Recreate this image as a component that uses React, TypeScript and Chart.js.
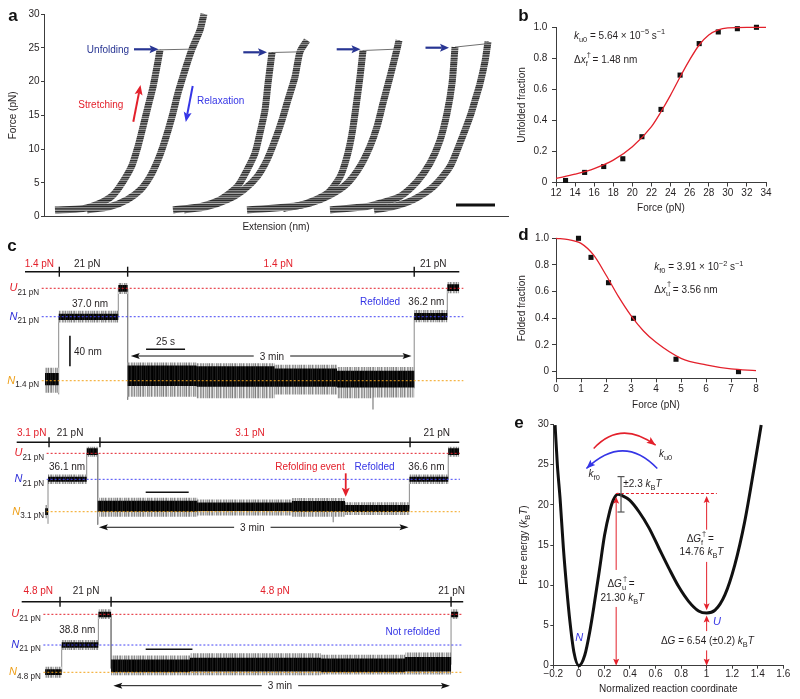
import React, { useEffect, useRef } from 'react';
import { Chart, registerables } from 'chart.js';

Chart.register(...registerables);

const FONT = '"Liberation Sans", Arial, Helvetica, sans-serif';
const RED = '#e3202b';
const BLUE = '#3535e6';
const NAVY = '#283593';
const ORANGE = '#f2a31b';
const INK = '#231f20';
const AX = '#3c3c3c';

// ================= Panel a : force-extension cycles =================
const c1StretchExt = [11, 39, 56, 69, 79, 88, 94, 99, 104, 109, 113, 116];
const c1StretchF = [1.0, 1.2, 2.0, 3.2, 5.2, 7.6, 10.4, 13.3, 16.3, 19.2, 22.2, 24.7];
const c1JumpExt = [116, 148];
const c1JumpF = [24.7, 24.8];
const c1RelaxExt = [160, 156, 148, 141, 134, 128, 121, 114, 106, 96, 83, 66, 43];
const c1RelaxF = [30, 27.6, 24.8, 21.7, 18.3, 14.8, 11.3, 8.4, 5.9, 3.9, 2.5, 1.5, 1.0];

const c2StretchExt = [129, 156, 176, 193, 203, 211, 216, 221, 224, 228];
const c2StretchF = [1.0, 1.5, 2.5, 4.4, 6.9, 9.4, 12.4, 15.8, 19.7, 24.3];
const c2JumpExt = [228, 256];
const c2JumpF = [24.3, 24.4];
const c2RelaxExt = [263, 256, 251, 244, 238, 231, 223, 213, 199, 183, 163, 140];
const c2RelaxF = [26.1, 24.4, 20.7, 17.3, 14.3, 11.3, 8.4, 5.9, 3.9, 2.5, 1.5, 1.0];

const c3StretchExt = [203, 256, 283, 296, 303, 308, 312, 316, 319];
const c3StretchF = [1.0, 1.7, 3.4, 5.9, 8.9, 12.3, 16.3, 20.7, 24.6];
const c3JumpExt = [319, 353];
const c3JumpF = [24.6, 24.8];
const c3RelaxExt = [355, 353, 346, 339, 333, 326, 316, 303, 286, 266, 239];
const c3RelaxF = [26.1, 24.8, 20.7, 16.8, 13.3, 10.4, 7.4, 4.9, 3.2, 2.0, 1.2];

const c4StretchExt = [286, 323, 336, 356, 373, 386, 396, 403, 408, 411];
const c4StretchF = [1.0, 1.5, 2.0, 3.0, 5.2, 7.9, 11.3, 15.3, 19.7, 25.1];
const c4JumpExt = [411, 443];
const c4JumpF = [25.1, 25.6];
const c4RelaxExt = [444, 441, 436, 431, 426, 416, 406, 389, 369, 349, 330];
const c4RelaxF = [25.9, 23.0, 19.7, 17.2, 14.8, 10.9, 7.4, 4.4, 2.5, 1.5, 1.0];

const aYTicks = [0, 5, 10, 15, 20, 25, 30];

// ================= Panel b =================
const bForce = [13, 15, 17, 19, 21, 23, 25, 27, 29, 31, 33];
const bUnfolded = [0.013, 0.065, 0.103, 0.153, 0.295, 0.471, 0.692, 0.895, 0.97, 0.991, 1.0];
const bFitForce = [12, 14, 16, 18, 20, 22, 23, 24, 25, 26, 27, 28, 29, 30, 32, 34];
const bFitUnfolded = [0.026, 0.054, 0.09, 0.144, 0.23, 0.36, 0.456, 0.563, 0.68, 0.79, 0.886, 0.95, 0.983, 0.996, 1.0, 1.0];
const bXTicks = [12, 14, 16, 18, 20, 22, 24, 26, 28, 30, 32, 34];
const fracTicks = [0, 0.2, 0.4, 0.6, 0.8, 1.0];

// ================= Panel d =================
const dForce = [0.9, 1.4, 2.1, 3.1, 4.8, 7.3];
const dFolded = [1.0, 0.857, 0.667, 0.4, 0.093, 0.0];
const dFitForce = [0, 0.5, 1, 1.5, 2, 2.5, 3, 3.5, 4, 5, 6, 7, 8];
const dFitFolded = [1.0, 0.99, 0.962, 0.875, 0.725, 0.562, 0.42, 0.305, 0.22, 0.1, 0.05, 0.02, 0.008];
const dXTicks = [0, 1, 2, 3, 4, 5, 6, 7, 8];

// ================= Panel e =================
const eCoord = [-0.186, -0.168, -0.147, -0.121, -0.095, -0.07, -0.039, 0, 0.046, 0.085, 0.124, 0.163, 0.201, 0.24, 0.27, 0.305, 0.343, 0.395, 0.472, 0.55, 0.627, 0.705, 0.782, 0.859, 0.937, 1.0, 1.066, 1.143, 1.22, 1.298, 1.375, 1.427];
const eEnergy = [29.9, 24.9, 20.8, 14.6, 9.6, 5.5, 1.7, 0, 1.3, 4.2, 8.0, 12.1, 16.2, 19.1, 20.6, 21.3, 21.1, 20.6, 19.1, 17.1, 14.6, 12.1, 9.8, 8.0, 6.8, 6.54, 6.9, 8.8, 12.5, 17.9, 24.9, 29.9];
const eXTicks = [-0.2, 0, 0.2, 0.4, 0.6, 0.8, 1.0, 1.2, 1.4, 1.6];
const eYTicks = [0, 5, 10, 15, 20, 25, 30];
const barrierCoord = 0.3;
const barrierEnergy = 21.3;
const unfoldedCoord = 1.0;
const unfoldedEnergy = 6.54;
const barrierErr = 2.3;

// ================= Panel c : extension traces (time s, extension nm) =================
const tr1T = [12.8, 21.6, 59.8, 65.8, 110, 160, 200, 222.5, 223.5, 249.5, 270.7, 278.4];
const tr1CoreHi = [10, 88, 126, 20, 19, 16, 13, 13, 13, 89, 127];
const tr1CoreLo = [-6, 80, 117, -7, -8, -8, -9, -9, -9, 80, 118];
const tr1OuterHi = [17, 92, 128.5, 24, 23, 21, 18, 18, 18, 93, 130];
const tr1OuterLo = [-16, 76.6, 114, -21, -23, -18, -23, -38, -22, 77, 115];
const tr1JumpT = [21.6, 59.8, 65.8, 249.5, 270.7];
const tr1JumpFrom = [-18, 84, 121, -10, 84];
const tr1JumpTo = [84, 121, -25, 84, 121];
const tr1Levels = [121.6, 84.2, 0];

const tr2T = [16.5, 18.2, 40.7, 47.1, 105, 160, 183.5, 184.5, 190.9, 228.3, 250.9, 257.3];
const tr2CoreHi = [4.5, 46, 83.4, 14.5, 12, 14, 14, 14, 8.8, 46, 83.4];
const tr2CoreLo = [-4.3, 39.5, 74.6, 0, 1, 0, 0, 0, -0.4, 39.5, 74.6];
const tr2OuterHi = [8.8, 49, 85.5, 18.4, 16, 18, 18, 18, 12.4, 49, 85.5];
const tr2OuterLo = [-8.7, 36.4, 72.4, -6.6, -5, -6.6, -14, -6.6, -4.3, 36.4, 72.4];
const tr2JumpT = [18.2, 40.7, 47.1, 228.3, 250.9];
const tr2JumpFrom = [-16, 43, 77, 4, 43];
const tr2JumpTo = [43, 77, -17, 43, 77];
const tr2Levels = [76.8, 42.6, 0];

const tr3T = [12.5, 21.4, 41, 47.8, 90, 160, 205, 229.6, 233.5];
const tr3CoreHi = [3.9, 39.5, 79.7, 17, 19, 18, 20, 79.7];
const tr3CoreLo = [-3.6, 32.4, 72.4, 0, 1, 0, 1, 72.4];
const tr3OuterHi = [7.4, 42.5, 82.9, 22, 25, 23, 26, 82.9];
const tr3OuterLo = [-7.1, 29.3, 70.1, -4, -4, -3, -3, 70.1];
const tr3JumpT = [21.4, 41, 47.8, 229.6];
const tr3JumpFrom = [0, 36, 76, 10];
const tr3JumpTo = [36, 76, 5, 76];
const tr3Levels = [76.3, 35.9, 0];

// fixed texture shades (style only)
const OUTER_SHADES = ['#9a9a9a', '#c9c9c9', '#7d7d7d', '#e6e6e6', '#a8a8a8', '#8c8c8c', '#d8d8d8', '#b4b4b4', '#f0f0f0', '#909090', '#bdbdbd', '#a0a0a0', '#dcdcdc', '#858585', '#c2c2c2', '#ececec', '#999999', '#b0b0b0', '#d0d0d0', '#8a8a8a', '#e2e2e2', '#a5a5a5', '#c6c6c6'];
const CORE_SHADES = ['#000000', '#111111', '#050505', '#1c1c1c', '#0a0a0a', '#000000', '#161616', '#080808', '#222222', '#030303', '#101010', '#000000', '#1a1a1a', '#060606', '#131313', '#000000', '#0c0c0c', '#1e1e1e', '#040404'];
const CURVE_SHADES = ['#3a3a3a', '#6a6a6a', '#2e2e2e', '#8c8c8c', '#474747', '#5c5c5c', '#a0a0a0', '#333333', '#777777', '#505050', '#959595', '#3f3f3f', '#686868', '#2a2a2a', '#848484', '#4c4c4c', '#b0b0b0'];

// ================= helpers =================
const pts = (xs: number[], ys: number[]) => xs.map((x, i) => ({ x, y: ys[i] }));
function stepPts(ts: number[], vals: number[]) {
  const p: any[] = vals.map((v, i) => ({ x: ts[i], y: v }));
  p.push({ x: ts[ts.length - 1], y: vals[vals.length - 1] });
  return p;
}
function jumpPts(ts: number[], from: number[], to: number[]) {
  const p: any[] = [];
  ts.forEach((t, i) => {
    p.push({ x: t, y: from[i] }, { x: t, y: to[i] }, { x: t, y: null });
  });
  return p;
}
function stripes(ctx: CanvasRenderingContext2D, shades: string[], vertical: boolean) {
  const pc = document.createElement('canvas');
  pc.width = vertical ? shades.length : 1;
  pc.height = vertical ? 1 : shades.length;
  const g = pc.getContext('2d') as CanvasRenderingContext2D;
  shades.forEach((c, i) => {
    g.fillStyle = c;
    if (vertical) g.fillRect(i, 0, 1, 1);
    else g.fillRect(0, i, 1, 1);
  });
  return ctx.createPattern(pc, 'repeat');
}

type Run = { t: string; i?: boolean; sub?: boolean; sup?: boolean; over?: string; c?: string };

function drawRuns(ctx: CanvasRenderingContext2D, runs: Run[], x: number, y: number, size: number, color: string, align: string = 'left') {
  const small = size * 0.74;
  const fontOf = (r: Run) => `${r.i ? 'italic ' : ''}${r.sub || r.sup ? small : size}px ${FONT}`;
  ctx.save();
  ctx.textAlign = 'left';
  ctx.textBaseline = 'alphabetic';
  const widths = runs.map((r) => {
    ctx.font = fontOf(r);
    let w = ctx.measureText(r.t).width;
    if (r.over) {
      ctx.font = `${small}px ${FONT}`;
      w = Math.max(w, ctx.measureText(r.over).width);
    }
    return w;
  });
  const total = widths.reduce((a, b) => a + b, 0);
  let cx = align === 'left' ? x : align === 'center' ? x - total / 2 : x - total;
  const base = y + size * 0.36;
  runs.forEach((r, k) => {
    ctx.fillStyle = r.c || color;
    ctx.font = fontOf(r);
    const dy = r.sub ? size * 0.3 : r.sup ? -size * 0.42 : 0;
    ctx.fillText(r.t, cx, base + dy);
    if (r.over) {
      ctx.font = `${small}px ${FONT}`;
      ctx.fillText(r.over, cx + 1, base - size * 0.62);
    }
    cx += widths[k];
  });
  ctx.restore();
}

function plain(ctx: CanvasRenderingContext2D, s: string, x: number, y: number, color: string, align: string, size = 10) {
  drawRuns(ctx, [{ t: s }], x, y, size, color, align);
}

function letter(ctx: CanvasRenderingContext2D, s: string, x: number, baseY: number) {
  ctx.save();
  ctx.font = `bold 17px ${FONT}`;
  ctx.fillStyle = '#111';
  ctx.textAlign = 'left';
  ctx.textBaseline = 'alphabetic';
  ctx.fillText(s, x, baseY);
  ctx.restore();
}

function head(ctx: CanvasRenderingContext2D, x: number, y: number, ang: number, len: number, wid: number, color: string) {
  ctx.save();
  ctx.translate(x, y);
  ctx.rotate(ang);
  ctx.beginPath();
  ctx.moveTo(0, 0);
  ctx.lineTo(-len, wid / 2);
  ctx.lineTo(-len * 0.8, 0);
  ctx.lineTo(-len, -wid / 2);
  ctx.closePath();
  ctx.fillStyle = color;
  ctx.fill();
  ctx.restore();
}

function arrowLine(ctx: CanvasRenderingContext2D, x1: number, y1: number, x2: number, y2: number, color: string, lw: number, len: number, wid: number) {
  const a = Math.atan2(y2 - y1, x2 - x1);
  ctx.save();
  ctx.strokeStyle = color;
  ctx.lineWidth = lw;
  ctx.beginPath();
  ctx.moveTo(x1, y1);
  ctx.lineTo(x2 - Math.cos(a) * len * 0.8, y2 - Math.sin(a) * len * 0.8);
  ctx.stroke();
  ctx.restore();
  head(ctx, x2, y2, a, len, wid, color);
}

function seg(ctx: CanvasRenderingContext2D, x1: number, y1: number, x2: number, y2: number) {
  ctx.beginPath();
  ctx.moveTo(x1, y1);
  ctx.lineTo(x2, y2);
  ctx.stroke();
}

const tickFont = { family: FONT, size: 10 };
const titleFont = { family: FONT, size: 10 };

function yAxis(min: number, max: number, ticks: number[], width: number, fmt: any, title: string | null, tickLen = 4, pad = 4) {
  return {
    type: 'linear',
    min,
    max,
    afterBuildTicks: (s: any) => {
      s.ticks = ticks.map((v) => ({ value: v }));
    },
    afterFit: (s: any) => {
      s.width = width;
    },
    ticks: { font: tickFont, color: INK, padding: pad, callback: fmt, autoSkip: false },
    grid: { drawOnChartArea: false, drawTicks: true, tickLength: tickLen, color: AX, lineWidth: 1 },
    border: { display: true, color: AX, width: 1 },
    title: title
      ? { display: true, text: title, font: titleFont, color: INK, padding: { top: 0, bottom: 0 } }
      : { display: false },
  };
}

function xAxis(min: number, max: number, ticks: number[], height: number, fmt: any, title: string | null, tickLen = 4, pad = 1) {
  return {
    type: 'linear',
    min,
    max,
    afterBuildTicks: (s: any) => {
      s.ticks = ticks.map((v) => ({ value: v }));
    },
    afterFit: (s: any) => {
      s.height = height;
    },
    ticks: { font: tickFont, color: INK, padding: pad, callback: fmt, autoSkip: false, maxRotation: 0, minRotation: 0 },
    grid: { drawOnChartArea: false, drawTicks: true, tickLength: tickLen, color: AX, lineWidth: 1 },
    border: { display: true, color: AX, width: 1 },
    title: title
      ? { display: true, text: title, font: titleFont, color: INK, padding: { top: 0, bottom: 0 } }
      : { display: false },
  };
}

const baseOptions = () => ({
  animation: false,
  responsive: false,
  devicePixelRatio: 1,
  events: [],
  plugins: { legend: { display: false }, tooltip: { enabled: false } },
  elements: { point: { radius: 0, hoverRadius: 0 } },
});

const fmtFrac = (v: number) => (v === 0 ? '0' : Number(v).toFixed(1));
const fmtInt = (v: number) => String(v);
const fmtCoord = (v: number) => {
  const r = Math.round(v * 10) / 10;
  return r < 0 ? '\u2212' + Math.abs(r) : String(r);
};

// ================= Panel a config =================
function makeA(ctx0: CanvasRenderingContext2D) {
  const tex = stripes(ctx0, CURVE_SHADES, false);
  const noisy = (xs: number[], ys: number[]) => [
    {
      data: pts(xs, ys),
      showLine: true,
      borderColor: tex,
      borderWidth: 7,
      tension: 0.25,
      borderJoinStyle: 'round',
      borderCapStyle: 'butt',
      clip: false,
    },
    {
      data: pts(xs, ys),
      showLine: true,
      borderColor: 'rgba(20,20,20,0.85)',
      borderWidth: 2.2,
      tension: 0.25,
      borderJoinStyle: 'round',
      clip: false,
    },
  ];
  const thin = (xs: number[], ys: number[]) => ({
    data: pts(xs, ys),
    showLine: true,
    borderColor: '#707070',
    borderWidth: 1,
    clip: false,
  });
  const deco = {
    id: 'decoA',
    afterDatasetsDraw(chart: any) {
      const ctx = chart.ctx;
      letter(ctx, 'a', 8.3, 20.7);
      plain(ctx, 'Unfolding', 108, 49.3, NAVY, 'center');
      arrowLine(ctx, 134, 49.3, 158.5, 49.3, NAVY, 2.2, 9, 8);
      arrowLine(ctx, 243.3, 52.3, 267, 52.3, NAVY, 2.2, 9, 8);
      arrowLine(ctx, 336.7, 49.3, 360.5, 49.3, NAVY, 2.2, 9, 8);
      arrowLine(ctx, 425.5, 47.7, 449, 47.7, NAVY, 2.2, 9, 8);
      plain(ctx, 'Stretching', 100.8, 104.3, RED, 'center');
      arrowLine(ctx, 133.3, 121.7, 140.5, 85, RED, 2, 10, 8);
      plain(ctx, 'Relaxation', 220.7, 100.7, BLUE, 'center');
      arrowLine(ctx, 192.7, 86, 185.8, 122, BLUE, 2, 10, 8);
      ctx.save();
      ctx.fillStyle = '#111';
      ctx.fillRect(456, 203.5, 39, 3);
      ctx.restore();
    },
  };
  return {
    type: 'scatter',
    data: {
      datasets: [
        ...noisy(c1StretchExt, c1StretchF),
        thin(c1JumpExt, c1JumpF),
        ...noisy(c1RelaxExt, c1RelaxF),
        ...noisy(c2StretchExt, c2StretchF),
        thin(c2JumpExt, c2JumpF),
        ...noisy(c2RelaxExt, c2RelaxF),
        ...noisy(c3StretchExt, c3StretchF),
        thin(c3JumpExt, c3JumpF),
        ...noisy(c3RelaxExt, c3RelaxF),
        ...noisy(c4StretchExt, c4StretchF),
        thin(c4JumpExt, c4JumpF),
        ...noisy(c4RelaxExt, c4RelaxF),
      ],
    },
    options: {
      ...baseOptions(),
      layout: { padding: { left: 7, right: 12, top: 14, bottom: 7 } },
      scales: {
        x: {
          type: 'linear',
          min: 0,
          max: 464,
          ticks: { display: false },
          grid: { display: false },
          border: { display: true, color: AX, width: 1 },
          title: { display: true, text: 'Extension (nm)', font: titleFont, color: INK, padding: { top: 0, bottom: 0 } },
          afterFit: (s: any) => {
            s.height = 16.3;
          },
        },
        y: yAxis(0, 30, aYTicks, 37, fmtInt, 'Force (pN)', 3, 1.5),
      },
    },
    plugins: [deco],
  };
}

// ================= Panel b config =================
function makeB() {
  const deco = {
    id: 'decoB',
    afterDatasetsDraw(chart: any) {
      const ctx = chart.ctx;
      letter(ctx, 'b', 48.3, 20.7);
      drawRuns(ctx, [{ t: 'k', i: true }, { t: 'u0', sub: true }, { t: ' = 5.64 \u00d7 10' }, { t: '\u22125', sup: true }, { t: ' s' }, { t: '\u22121', sup: true }], 104, 35, 10, INK);
      drawRuns(ctx, [{ t: '\u0394' }, { t: 'x', i: true }, { t: 'f', sub: true, over: '\u2020' }, { t: ' = 1.48 nm' }], 104, 59.3, 10, INK);
    },
  };
  return {
    type: 'scatter',
    data: {
      datasets: [
        { data: pts(bFitForce, bFitUnfolded), showLine: true, borderColor: RED, borderWidth: 1.3, cubicInterpolationMode: 'monotone', clip: false },
        { data: pts(bForce, bUnfolded), pointStyle: 'rect', pointRadius: 3.6, backgroundColor: '#111', borderWidth: 0, clip: false },
      ],
    },
    options: {
      ...baseOptions(),
      layout: { padding: { left: 46.7, right: 34, top: 27.3, bottom: 10.4 } },
      scales: {
        x: xAxis(12, 34, bXTicks, 32.1, fmtInt, 'Force (pN)', 4, 1),
        y: yAxis(0, 1, fracTicks, 39.3, fmtFrac, 'Unfolded fraction', 4, 4.7),
      },
    },
    plugins: [deco],
  };
}

// ================= Panel d config =================
function makeD() {
  const deco = {
    id: 'decoD',
    afterDatasetsDraw(chart: any) {
      const ctx = chart.ctx;
      letter(ctx, 'd', 48.3, 15);
      drawRuns(ctx, [{ t: 'k', i: true }, { t: 'f0', sub: true }, { t: ' = 3.91 \u00d7 10' }, { t: '\u22122', sup: true }, { t: ' s' }, { t: '\u22121', sup: true }], 184.3, 41.7, 10, INK);
      drawRuns(ctx, [{ t: '\u0394' }, { t: 'x', i: true }, { t: 'u', sub: true, over: '\u2020' }, { t: ' = 3.56 nm' }], 184.3, 64, 10, INK);
    },
  };
  return {
    type: 'scatter',
    data: {
      datasets: [
        { data: pts(dFitForce, dFitFolded), showLine: true, borderColor: RED, borderWidth: 1.3, cubicInterpolationMode: 'monotone', clip: false },
        { data: pts(dForce, dFolded), pointStyle: 'rect', pointRadius: 3.6, backgroundColor: '#111', borderWidth: 0, clip: false },
      ],
    },
    options: {
      ...baseOptions(),
      layout: { padding: { left: 46.7, right: 44, top: 13.3, bottom: 3.4 } },
      scales: {
        x: xAxis(0, 8, dXTicks, 33.3, fmtInt, 'Force (pN)', 4, 1),
        y: yAxis(-0.05, 1, fracTicks, 39.3, fmtFrac, 'Folded fraction', 4, 3),
      },
    },
    plugins: [deco],
  };
}

// ================= Panel e config =================
function makeE() {
  const deco = {
    id: 'decoE',
    afterDatasetsDraw(chart: any) {
      const ctx = chart.ctx;
      const X = (v: number) => chart.scales.x.getPixelForValue(v);
      const Y = (v: number) => chart.scales.y.getPixelForValue(v);
      letter(ctx, 'e', 44.3, 13.3);
      ctx.save();
      ctx.translate(53.3, 130);
      ctx.rotate(-Math.PI / 2);
      drawRuns(ctx, [{ t: 'Free energy (' }, { t: 'k', i: true }, { t: 'B', sub: true }, { t: 'T', i: true }, { t: ')' }], 0, 0, 10, INK, 'center');
      ctx.restore();
      ctx.save();
      ctx.strokeStyle = RED;
      ctx.lineWidth = 1;
      ctx.setLineDash([3, 2]);
      seg(ctx, X(barrierCoord - 0.01), Y(barrierEnergy + 0.1), X(1.08), Y(barrierEnergy + 0.1));
      ctx.restore();
      ctx.save();
      ctx.strokeStyle = '#555';
      ctx.lineWidth = 1.2;
      const ex = X(0.33);
      seg(ctx, ex, Y(barrierEnergy - barrierErr + 0.1), ex, Y(barrierEnergy + barrierErr - 0.1));
      seg(ctx, ex - 3.5, Y(barrierEnergy - barrierErr + 0.1), ex + 3.5, Y(barrierEnergy - barrierErr + 0.1));
      seg(ctx, ex - 3.5, Y(barrierEnergy + barrierErr - 0.1), ex + 3.5, Y(barrierEnergy + barrierErr - 0.1));
      ctx.restore();
      drawRuns(ctx, [{ t: '\u00b12.3 ' }, { t: 'k', i: true }, { t: 'B', sub: true }, { t: 'T', i: true }], X(0.348), Y(22.7), 10, INK);
      const gapped = (x: number, top: number, bot: number, g1: number, g2: number) => {
        ctx.save();
        ctx.strokeStyle = RED;
        ctx.lineWidth = 1;
        seg(ctx, x, top + 5, x, g1);
        seg(ctx, x, g2, x, bot - 5);
        ctx.restore();
        head(ctx, x, top, -Math.PI / 2, 7, 6, RED);
        head(ctx, x, bot, Math.PI / 2, 7, 6, RED);
      };
      gapped(X(barrierCoord - 0.008), Y(barrierEnergy - 0.3), Y(0), Y(11.9), Y(7.3));
      gapped(X(unfoldedCoord), Y(barrierEnergy - 0.2), Y(unfoldedEnergy + 0.35), Y(16.9), Y(12.9));
      gapped(X(unfoldedCoord), Y(unfoldedEnergy - 0.3), Y(0), Y(4.3), Y(1.9));
      drawRuns(ctx, [{ t: '\u0394' }, { t: 'G', i: true }, { t: 'u', sub: true, over: '\u2020' }, { t: ' =' }], X(0.33), Y(10.2), 10, INK, 'center');
      drawRuns(ctx, [{ t: '21.30 ' }, { t: 'k', i: true }, { t: 'B', sub: true }, { t: 'T', i: true }], X(0.34), Y(8.5), 10, INK, 'center');
      drawRuns(ctx, [{ t: '\u0394' }, { t: 'G', i: true }, { t: 'f', sub: true, over: '\u2020' }, { t: ' =' }], X(0.95), Y(15.8), 10, INK, 'center');
      drawRuns(ctx, [{ t: '14.76 ' }, { t: 'k', i: true }, { t: 'B', sub: true }, { t: 'T', i: true }], X(0.96), Y(14.2), 10, INK, 'center');
      drawRuns(ctx, [{ t: '\u0394' }, { t: 'G', i: true }, { t: ' = 6.54 (\u00b10.2) ' }, { t: 'k', i: true }, { t: 'B', sub: true }, { t: 'T', i: true }], X(1.006), Y(3.1), 10, INK, 'center');
      drawRuns(ctx, [{ t: 'N', i: true }], X(0.003), Y(3.6), 11, BLUE, 'center');
      drawRuns(ctx, [{ t: 'U', i: true }], X(1.08), Y(5.5), 11, BLUE, 'center');
      const arc = (p0: number[], peak: number[], p2: number[], color: string) => {
        const a = [X(p0[0]), Y(p0[1])];
        const m = [X(peak[0]), Y(peak[1])];
        const b = [X(p2[0]), Y(p2[1])];
        const c = [2 * m[0] - 0.5 * (a[0] + b[0]), 2 * m[1] - 0.5 * (a[1] + b[1])];
        ctx.save();
        ctx.strokeStyle = color;
        ctx.lineWidth = 1.5;
        ctx.beginPath();
        ctx.moveTo(a[0], a[1]);
        ctx.quadraticCurveTo(c[0], c[1], b[0], b[1]);
        ctx.stroke();
        ctx.restore();
        head(ctx, b[0], b[1], Math.atan2(b[1] - c[1], b[0] - c[0]), 9, 7, color);
      };
      arc([0.116, 27.0], [0.343, 28.9], [0.601, 27.4], RED);
      arc([0.614, 24.5], [0.343, 26.7], [0.059, 24.5], BLUE);
      drawRuns(ctx, [{ t: 'k', i: true }, { t: 'u0', sub: true }], X(0.679), Y(26.4), 10, INK, 'center');
      drawRuns(ctx, [{ t: 'k', i: true }, { t: 'f0', sub: true }], X(0.12), Y(23.9), 10, INK, 'center');
    },
  };
  return {
    type: 'scatter',
    data: {
      datasets: [
        { data: pts(eCoord, eEnergy), showLine: true, borderColor: '#111', borderWidth: 3, cubicInterpolationMode: 'monotone', clip: false },
      ],
    },
    options: {
      ...baseOptions(),
      layout: { padding: { left: 46.7, right: 16.7, top: 9.3, bottom: 4.1 } },
      scales: {
        x: xAxis(-0.2, 1.6, eXTicks, 29.2, fmtCoord, 'Normalized reaction coordinate', 3, 0),
        y: yAxis(0, 30, eYTicks, 36.6, fmtInt, null, 3, 1.5),
      },
    },
    plugins: [deco],
  };
}

// ================= Panel c config =================
type TraceSpec = {
  xRange: number[];
  yRange: number[];
  T: number[];
  coreHi: number[];
  coreLo: number[];
  outerHi: number[];
  outerLo: number[];
  jumpT: number[];
  jumpFrom: number[];
  jumpTo: number[];
  levels: number[];
  lowLabel: string;
  levelSpan: number[];
  protoY: number;
  protoEnd: number;
  protoTicks: number[];
  protoDy: number;
  protoLabels: any[];
  texts: any[];
  hbar: number[];
  span: number[];
  vbar?: number[];
  redArrow?: number[];
  letterC?: boolean;
};

function makeTrace(sp: TraceSpec, ctx0: CanvasRenderingContext2D) {
  const outerTex = stripes(ctx0, OUTER_SHADES, true);
  const coreTex = stripes(ctx0, CORE_SHADES, true);
  const levelColors = [RED, '#4545f5', ORANGE];
  const levelDatasets = sp.levels.map((v, i) => ({
    data: [
      { x: sp.levelSpan[0], y: v },
      { x: sp.levelSpan[1], y: v },
    ],
    showLine: true,
    borderColor: levelColors[i],
    borderWidth: 1,
    borderDash: [2, 2],
    order: 0,
  }));
  const deco = {
    id: 'traceDeco',
    afterDatasetsDraw(chart: any) {
      const ctx = chart.ctx;
      const X = (v: number) => chart.scales.x.getPixelForValue(v);
      const Y = (v: number) => chart.scales.y.getPixelForValue(v);
      if (sp.letterC) letter(ctx, 'c', 7.3, 11);
      ctx.save();
      ctx.strokeStyle = '#111';
      ctx.lineWidth = 1.6;
      const py = Y(sp.protoY);
      seg(ctx, X(0), py, X(sp.protoEnd), py);
      ctx.lineWidth = 1.4;
      sp.protoTicks.forEach((t) => seg(ctx, X(t), py - 5, X(t), py + 5));
      ctx.restore();
      sp.protoLabels.forEach((l: any) => plain(ctx, l[1], X(l[0]), py - sp.protoDy, l[2] ? RED : INK, 'center'));
      const subs = ['21 pN', '21 pN', sp.lowLabel];
      const letters = ['U', 'N', 'N'];
      const lc = [RED, '#2d2dd8', '#ee9f17'];
      sp.levels.forEach((v, i) =>
        drawRuns(ctx, [{ t: letters[i], i: true, c: lc[i] }, { t: subs[i], sub: true }], X(sp.levelSpan[0]) - 2.5, Y(v) - 1, 11, INK, 'right')
      );
      sp.texts.forEach((tx: any) => plain(ctx, tx[2], X(tx[0]), Y(tx[1]), tx[3] || INK, 'center'));
      ctx.save();
      ctx.strokeStyle = '#111';
      ctx.lineWidth = 1.6;
      seg(ctx, X(sp.hbar[0]), Y(sp.hbar[2]), X(sp.hbar[1]), Y(sp.hbar[2]));
      if (sp.vbar) {
        seg(ctx, X(sp.vbar[0]), Y(sp.vbar[1]), X(sp.vbar[0]), Y(sp.vbar[2]));
      }
      ctx.restore();
      if (sp.vbar) {
        plain(ctx, '40 nm', X(sp.vbar[3]), Y(sp.vbar[4]), INK, 'left');
        plain(ctx, '25 s', X((sp.hbar[0] + sp.hbar[1]) / 2), Y(sp.hbar[2]) - 8, INK, 'center');
      }
      const sy = Y(sp.span[2]);
      const lx = X(sp.span[3]);
      ctx.save();
      ctx.font = `10px ${FONT}`;
      const hw = ctx.measureText('3 min').width / 2 + 6;
      ctx.strokeStyle = '#111';
      ctx.lineWidth = 1;
      seg(ctx, X(sp.span[0]) + 5, sy, lx - hw, sy);
      seg(ctx, lx + hw, sy, X(sp.span[1]) - 5, sy);
      ctx.restore();
      head(ctx, X(sp.span[0]), sy, Math.PI, 9, 6, '#111');
      head(ctx, X(sp.span[1]), sy, 0, 9, 6, '#111');
      plain(ctx, '3 min', lx, sy, INK, 'center');
      if (sp.redArrow) {
        arrowLine(ctx, X(sp.redArrow[0]), Y(sp.redArrow[1]), X(sp.redArrow[0]), Y(sp.redArrow[2]), RED, 1.8, 9, 8);
      }
    },
  };
  return {
    type: 'scatter',
    data: {
      datasets: [
        ...levelDatasets,
        { data: jumpPts(sp.jumpT, sp.jumpFrom, sp.jumpTo), showLine: true, borderColor: '#8a8a8a', borderWidth: 1, spanGaps: false, order: 4 },
        { data: stepPts(sp.T, sp.outerHi), showLine: true, stepped: true, borderColor: 'rgba(0,0,0,0)', borderWidth: 0, order: 3 },
        { data: stepPts(sp.T, sp.outerLo), showLine: true, stepped: true, borderColor: 'rgba(0,0,0,0)', borderWidth: 0, fill: '-1', backgroundColor: outerTex, order: 3 },
        { data: stepPts(sp.T, sp.coreHi), showLine: true, stepped: true, borderColor: 'rgba(0,0,0,0)', borderWidth: 0, order: 2 },
        { data: stepPts(sp.T, sp.coreLo), showLine: true, stepped: true, borderColor: 'rgba(0,0,0,0)', borderWidth: 0, fill: '-1', backgroundColor: coreTex, order: 2 },
      ],
    },
    options: {
      ...baseOptions(),
      layout: { padding: 0 },
      scales: {
        x: { type: 'linear', display: false, min: sp.xRange[0], max: sp.xRange[1] },
        y: { type: 'linear', display: false, min: sp.yRange[0], max: sp.yRange[1] },
      },
    },
    plugins: [deco],
  };
}

const trace1: TraceSpec = {
  xRange: [-16.03, 285.26],
  yRange: [-45.13, 185.13],
  T: tr1T,
  coreHi: tr1CoreHi,
  coreLo: tr1CoreLo,
  outerHi: tr1OuterHi,
  outerLo: tr1OuterLo,
  jumpT: tr1JumpT,
  jumpFrom: tr1JumpFrom,
  jumpTo: tr1JumpTo,
  levels: tr1Levels,
  lowLabel: '1.4 pN',
  levelSpan: [10.7, 281.0],
  protoY: 143.4,
  protoEnd: 278.4,
  protoTicks: [22.0, 65.8, 249.5],
  protoDy: 8.6,
  protoLabels: [
    [9.2, '1.4 pN', true],
    [39.9, '21 pN', false],
    [162.4, '1.4 pN', true],
    [261.7, '21 pN', false],
  ],
  texts: [
    [41.7, 101.8, '37.0 nm'],
    [257.3, 104, '36.2 nm'],
    [227.6, 104, 'Refolded', BLUE],
  ],
  hbar: [77.6, 102.6, 41.3],
  vbar: [28.8, 19, 59, 31.4, 39.1],
  span: [67.8, 247.8, 32.5, 158.3],
  letterC: true,
};

const trace2: TraceSpec = {
  xRange: [-9.71, 263.55],
  yRange: [-43.82, 127.24],
  T: tr2T,
  coreHi: tr2CoreHi,
  coreLo: tr2CoreLo,
  outerHi: tr2OuterHi,
  outerLo: tr2OuterLo,
  jumpT: tr2JumpT,
  jumpFrom: tr2JumpFrom,
  jumpTo: tr2JumpTo,
  levels: tr2Levels,
  lowLabel: '3.1 pN',
  levelSpan: [17.4, 257.7],
  protoY: 91.3,
  protoEnd: 257.3,
  protoTicks: [18.8, 48.4, 228.7],
  protoDy: 10,
  protoLabels: [
    [8.7, '3.1 pN', true],
    [31, '21 pN', false],
    [135.6, '3.1 pN', true],
    [244.2, '21 pN', false],
  ],
  texts: [
    [29.3, 59.2, '36.1 nm'],
    [238.2, 59.2, '36.6 nm'],
    [170.5, 59.2, 'Refolding event', RED],
    [208.1, 59.2, 'Refolded', BLUE],
  ],
  hbar: [75, 100, 25.5],
  span: [47.8, 227.8, -20.5, 137],
  redArrow: [191.3, 50.5, 19.7],
};

const trace3: TraceSpec = {
  xRange: [-11.6, 239.73],
  yRange: [-35.13, 167.5],
  T: tr3T,
  coreHi: tr3CoreHi,
  coreLo: tr3CoreLo,
  outerHi: tr3OuterHi,
  outerLo: tr3OuterLo,
  jumpT: tr3JumpT,
  jumpFrom: tr3JumpFrom,
  jumpTo: tr3JumpTo,
  levels: tr3Levels,
  lowLabel: '4.8 pN',
  levelSpan: [11.6, 235.3],
  protoY: 92.9,
  protoEnd: 236.1,
  protoTicks: [20.5, 47.8, 229.6],
  protoDy: 11.7,
  protoLabels: [
    [8.9, '4.8 pN', true],
    [34.4, '21 pN', false],
    [135.5, '4.8 pN', true],
    [229.9, '21 pN', false],
  ],
  texts: [
    [29.7, 57, '38.8 nm'],
    [209.1, 53.4, 'Not refolded', BLUE],
  ],
  hbar: [66.3, 91.3, 30.3],
  span: [49, 229, -17.6, 138.1],
};

// ================= components =================
function ChartBox({ left, top, width, height, make }: { left: number; top: number; width: number; height: number; make: (ctx: CanvasRenderingContext2D) => any }) {
  const ref = useRef<HTMLCanvasElement>(null);
  useEffect(() => {
    const canvas = ref.current as HTMLCanvasElement;
    const chart = new Chart(canvas, make(canvas.getContext('2d') as CanvasRenderingContext2D));
    return () => chart.destroy();
  }, []);
  return <canvas ref={ref} width={width} height={height} style={{ position: 'absolute', left, top, width, height }} />;
}

export default function App() {
  return (
    <div style={{ position: 'absolute', left: 0, top: 0, width: 800, height: 699, background: '#fff', overflow: 'hidden' }}>
      <ChartBox left={0} top={0} width={520} height={240} make={makeA} />
      <ChartBox left={470} top={0} width={330} height={225} make={makeB} />
      <ChartBox left={470} top={225} width={330} height={190} make={makeD} />
      <ChartBox left={470} top={415} width={330} height={284} make={makeE} />
      <ChartBox left={0} top={240} width={470} height={175} make={(c) => makeTrace(trace1, c)} />
      <ChartBox left={0} top={415} width={470} height={130} make={(c) => makeTrace(trace2, c)} />
      <ChartBox left={0} top={545} width={470} height={154} make={(c) => makeTrace(trace3, c)} />
    </div>
  );
}
